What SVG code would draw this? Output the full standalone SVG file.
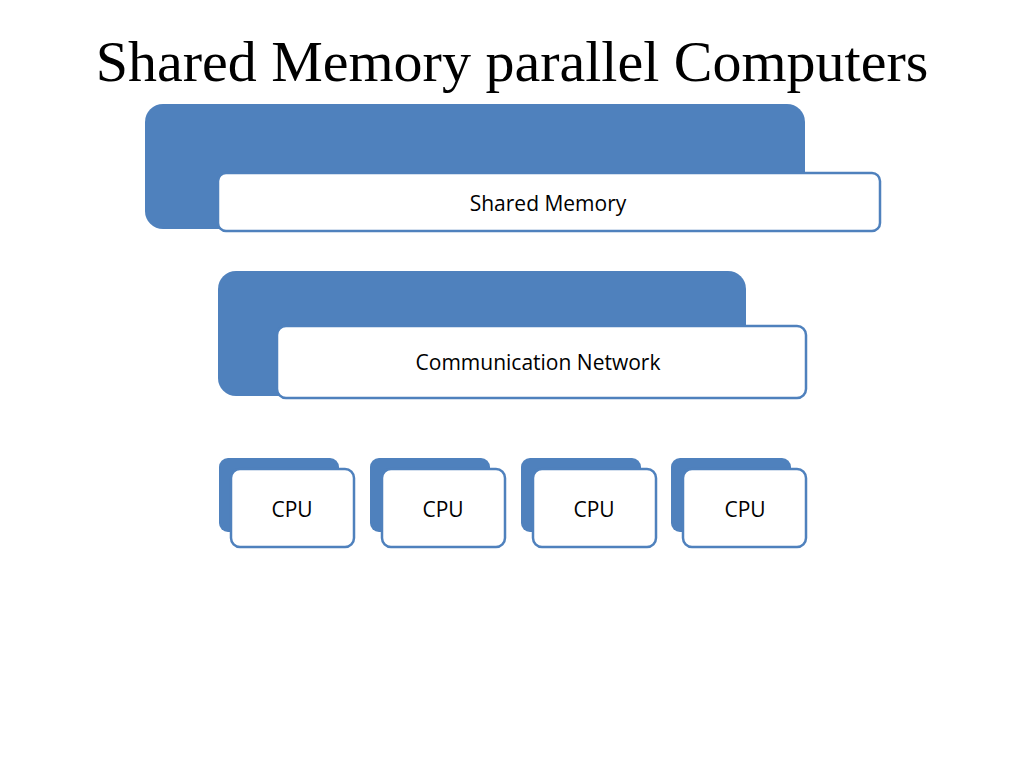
<svg xmlns="http://www.w3.org/2000/svg" width="1024" height="768" viewBox="0 0 1024 768">
<style>
.back{fill:#4f81bd}
.front{fill:#fff;stroke:#4f81bd;stroke-width:2.5}
.lbl{font-family:"Open Sans","Liberation Sans",sans-serif;font-size:21px;fill:#000;text-anchor:middle}
</style>
<rect width="1024" height="768" fill="#fff"/>
<text x="512" y="81" text-anchor="middle" font-family="Liberation Serif,serif" font-size="58">Shared Memory parallel Computers</text>
<g id="shared-memory">
<rect class="back" x="145" y="104" width="660" height="125" rx="18"/>
<rect class="front" x="218" y="173" width="662" height="58" rx="8"/>
<text class="lbl" x="548" y="211">Shared Memory</text>
</g>
<g id="communication-network">
<rect class="back" x="218" y="271" width="528" height="125" rx="18"/>
<rect class="front" x="277" y="326" width="529" height="72" rx="9"/>
<text class="lbl" x="538" y="370">Communication Network</text>
</g>
<g id="cpu1"><rect class="back" x="219" y="458" width="120" height="74" rx="9"/><rect class="front" x="231" y="469" width="123" height="78" rx="9"/><text class="lbl" x="292" y="517">CPU</text></g>
<g id="cpu2"><rect class="back" x="370" y="458" width="120" height="74" rx="9"/><rect class="front" x="382" y="469" width="123" height="78" rx="9"/><text class="lbl" x="443" y="517">CPU</text></g>
<g id="cpu3"><rect class="back" x="521" y="458" width="120" height="74" rx="9"/><rect class="front" x="533" y="469" width="123" height="78" rx="9"/><text class="lbl" x="594" y="517">CPU</text></g>
<g id="cpu4"><rect class="back" x="671" y="458" width="120" height="74" rx="9"/><rect class="front" x="683" y="469" width="123" height="78" rx="9"/><text class="lbl" x="745" y="517">CPU</text></g>
<g id="connectors"/>
</svg>
